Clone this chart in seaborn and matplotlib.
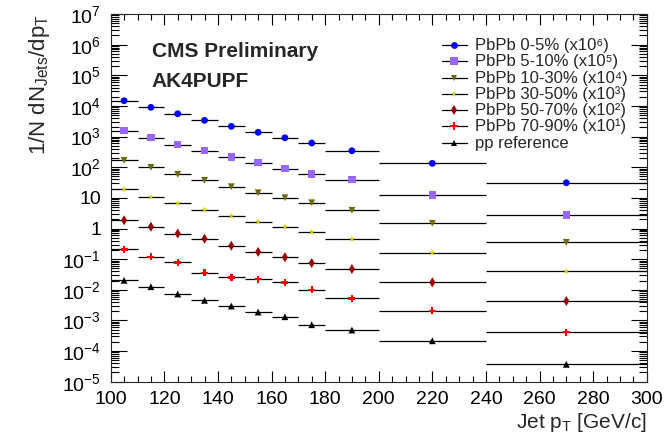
import numpy as np
import pandas as pd
import matplotlib
matplotlib.use("Agg")
import matplotlib.pyplot as plt
import matplotlib.ticker as mticker
import seaborn as sns

# Jet pT binning (GeV/c)
bin_edges = [100, 110, 120, 130, 140, 150, 160, 170, 180, 200, 240, 300]

series_names = ["PbPb 0-5%", "PbPb 5-10%", "PbPb 10-30%", "PbPb 30-50%",
                "PbPb 50-70%", "PbPb 70-90%", "pp reference"]
scale_powers = [6, 5, 4, 3, 2, 1, 0]

# Normalised spectra 1/N dN/dpT per bin (before display scaling)
spec_0_5 = [0.0148, 0.0090, 0.00557, 0.00340, 0.00216, 0.00138, 0.000918,
            0.000617, 0.000346, 0.000134, 0.0000312]
spec_5_10 = [0.01552, 0.00918, 0.00542, 0.00346, 0.00215, 0.00140, 0.000893,
             0.000600, 0.000391, 0.000124, 0.0000275]
spec_10_30 = [0.0168, 0.00993, 0.00586, 0.00373, 0.00231, 0.00147, 0.00101,
              0.000693, 0.000392, 0.000148, 0.0000354]
spec_30_50 = [0.0190, 0.0106, 0.00664, 0.00410, 0.00255, 0.00166, 0.00114,
              0.000767, 0.000454, 0.000162, 0.0000401]
spec_50_70 = [0.0185, 0.0114, 0.00686, 0.00464, 0.00274, 0.00173, 0.00116,
              0.000747, 0.000476, 0.000175, 0.0000430]
spec_70_90 = [0.0209, 0.0120, 0.00787, 0.00361, 0.00255, 0.00224, 0.00175,
              0.00100, 0.000526, 0.000207, 0.0000418]
spec_pp = [0.0204, 0.0126, 0.00728, 0.00453, 0.00295, 0.00188, 0.00132,
           0.000724, 0.000486, 0.000217, 0.0000369]

spectra = [spec_0_5, spec_5_10, spec_10_30, spec_30_50, spec_50_70,
           spec_70_90, spec_pp]

colors = ["#0000ff", "#9966ff", "#6b6b00", "#d4d000", "#990000", "#ff0000", "#000000"]
markers = ["o", "s", "v", "*", "d", "P", "^"]
marker_sizes = [24, 28, 24, 24, 26, 26, 24]

# ---------------------------------------------------------------- styling
sns.set_theme(style="ticks")
plt.rcParams["font.family"] = ["Liberation Sans", "DejaVu Sans"]
plt.rcParams["mathtext.fontset"] = "custom"
plt.rcParams["mathtext.rm"] = "Liberation Sans"
plt.rcParams["mathtext.it"] = "Liberation Sans:italic"
plt.rcParams["mathtext.bf"] = "Liberation Sans:bold"
plt.rcParams["axes.linewidth"] = 0.8

edges = np.array(bin_edges, dtype=float)
centers = 0.5 * (edges[:-1] + edges[1:])
half_widths = 0.5 * (edges[1:] - edges[:-1])

rows = []
for name, p, spec in zip(series_names, scale_powers, spectra):
    for c, v in zip(centers, spec):
        rows.append({"pt": c, "value": v * 10.0 ** p, "series": name})
df = pd.DataFrame(rows)

fig = plt.figure(figsize=(6.65, 4.36), dpi=100)
ax = fig.add_axes([0.1665, 0.1245, 0.8060, 0.8433])

# horizontal bin-width bars
for name in series_names:
    sub = df[df["series"] == name]
    ax.errorbar(sub["pt"], sub["value"], xerr=half_widths, fmt="none",
                ecolor="black", elinewidth=0.9, capsize=0, zorder=2)

sns.scatterplot(data=df, x="pt", y="value", hue="series", style="series",
                size="series",
                palette=dict(zip(series_names, colors)),
                markers=dict(zip(series_names, markers)),
                sizes=dict(zip(series_names, marker_sizes)),
                linewidth=0, legend=False, ax=ax, zorder=3)

ax.set_yscale("log")
ax.set_xlim(100, 300)
ax.set_ylim(1e-5, 1e7)

ax.xaxis.set_major_locator(mticker.MultipleLocator(20))
ax.xaxis.set_minor_locator(mticker.MultipleLocator(5))
ax.yaxis.set_major_locator(mticker.LogLocator(base=10, numticks=20))
ax.yaxis.set_minor_locator(mticker.LogLocator(base=10, subs=np.arange(2, 10), numticks=200))


def log_label(v, pos):
    e = int(round(np.log10(v)))
    if e == 0:
        return "1"
    if e == 1:
        return "10"
    return r"$10^{%d}$" % e


ax.yaxis.set_major_formatter(mticker.FuncFormatter(log_label))
ax.yaxis.set_minor_formatter(mticker.NullFormatter())

ax.tick_params(which="both", direction="in", top=True, right=True,
               width=0.8, colors="black", labelsize=14)
ax.tick_params(axis="x", which="major", length=8, pad=7)
ax.tick_params(axis="x", which="minor", length=4)
ax.tick_params(axis="y", which="major", length=11.5, pad=7)
ax.tick_params(axis="y", which="minor", length=5.8)

ax.set_xlabel(r"Jet p$_{\mathrm{T}}$ [GeV/c]", fontsize=15, loc="right", labelpad=2)
ax.set_ylabel(r"1/N dN$_{\mathrm{Jets}}$/dp$_{\mathrm{T}}$", fontsize=16, loc="top", labelpad=7)

# header text
fig.text(151.7 / 665, 1 - 56.7 / 436, "CMS Preliminary", fontsize=15,
         fontweight="bold", va="baseline", ha="left")
fig.text(151.7 / 665, 1 - 87.3 / 436, "AK4PUPF", fontsize=15,
         fontweight="bold", va="baseline", ha="left")

# legend
superscripts = {0: "\u2070", 1: "\u00b9", 2: "\u00b2", 3: "\u00b3",
                4: "\u2074", 5: "\u2075", 6: "\u2076"}
legend_labels = []
for name, p in zip(series_names, scale_powers):
    if name.startswith("PbPb"):
        legend_labels.append(f"{name} (x10{superscripts[p]})")
    else:
        legend_labels.append(name)

row0, row_step = 45.0, 16.3
for i, (lab, col, mk, s) in enumerate(zip(legend_labels, colors, markers, marker_sizes)):
    yy = 1 - (row0 + i * row_step) / 436
    ax.plot([441.7 / 665, 466.7 / 665], [yy, yy], color="black", lw=0.9,
            transform=fig.transFigure, clip_on=False, zorder=4)
    ax.plot([453.7 / 665], [yy], marker=mk, color=col, markersize=np.sqrt(s),
            markeredgewidth=0, linestyle="none",
            transform=fig.transFigure, clip_on=False, zorder=5)
    fig.text(475 / 665, 1 - (row0 + i * row_step + 5.0) / 436, lab,
             fontsize=12, va="baseline", ha="left")

fig.savefig("out.png", dpi=100)
